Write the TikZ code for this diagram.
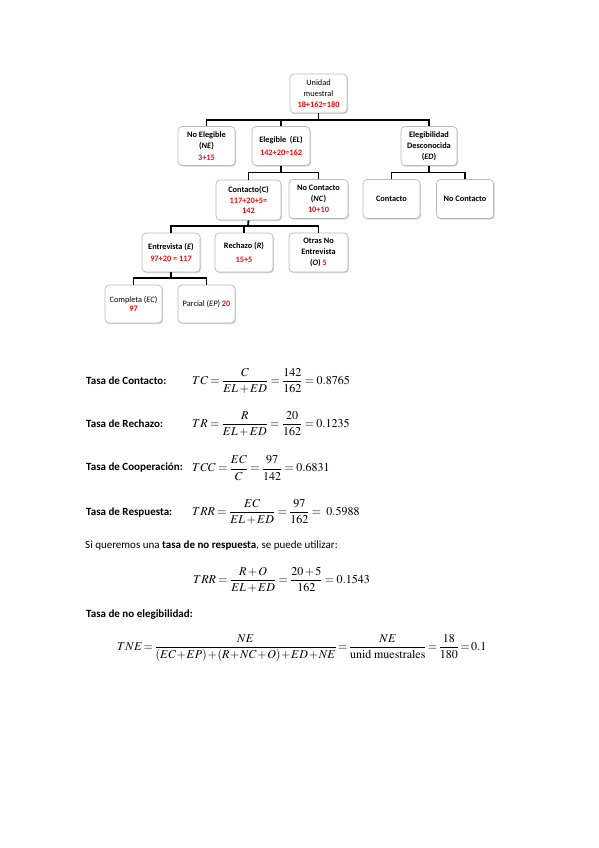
\documentclass[tikz,border=0pt]{standalone}
\usepackage{mathptmx}
\usepackage[no-math]{fontspec}
\setmainfont{Carlito}
\usetikzlibrary{shadows}
\definecolor{redn}{RGB}{245,10,10}
\definecolor{boxline}{RGB}{185,185,185}
\newcommand{\rn}[1]{{\bfseries\color{redn}#1}}
\tikzset{
  tb/.style={draw=boxline, fill=white, rounded corners=4pt, line width=0.7pt,
    minimum width=57pt, minimum height=39pt, align=center, inner sep=0.5pt,
    drop shadow={shadow xshift=1pt, shadow yshift=-1.2pt, opacity=0.35},
    font=\fontsize{8.3}{10.8}\selectfont},
  bl/.style={font=\fontsize{8.3}{10.8}\selectfont\bfseries},
  conn/.style={draw=black, line width=1.8pt},
  lbl/.style={anchor=west, inner sep=0pt, font=\fontsize{11}{13}\selectfont\bfseries},
  txt/.style={anchor=west, inner sep=0pt, font=\fontsize{11}{13}\selectfont},
  eq/.style={anchor=west, inner sep=0pt, font=\fontsize{12}{14}\selectfont}
}
\begin{document}
\thickmuskip=3.5mu plus 2mu
\medmuskip=2mu plus 1mu
\begin{tikzpicture}[x=1pt,y=-1pt]
\useasboundingbox[fill=white] (0,0) rectangle (599,848);

\coordinate (b1) at (318.5,120);
\coordinate (b2) at (281,172.5);
\coordinate (b3) at (429,172.5);
\coordinate (b4) at (248,226);
\coordinate (b5) at (171,278);

\node[tb] (U) at (318.5,93.5) {Unidad\\muestral\\\rn{18+162=180}};
\node[tb,bl] (NE) at (206.5,146) {No Elegible\\(\textit{NE})\\[1pt]\rn{3+15}};
\node[tb,bl,minimum width=58pt] (EL) at (281,146) {Elegible\ \ (\textit{EL})\\[2pt]\rn{142+20=162}};
\node[tb,bl,minimum width=56pt] (ED) at (429,146) {Elegibilidad\\Desconocida\\(\textit{ED})};
\node[tb,bl] (EDC) at (391.5,199) {Contacto};
\node[tb,bl] (EDNC) at (465,199) {No Contacto};
\node[tb,bl,minimum width=65pt,minimum height=40pt] (C) at (248.5,200) {Contacto(C)\\\rn{117+20+5=}\\\rn{142}};
\node[tb,bl,minimum width=59pt] (NC) at (318.5,199) {No Contacto\\(\textit{NC})\\\rn{10+10}};
\node[tb,bl,minimum width=58pt] (E) at (171,252.5) {Entrevista (\textit{E})\\[2pt]\rn{97+20 = 117}};
\node[tb,bl,minimum width=58pt] (R) at (244,252.5) {Rechazo (\textit{R})\\[3pt]\rn{15+5}\hspace{14pt}};
\node[tb,bl,minimum width=59pt] (O) at (318.5,252.5) {Otras No\\Entrevista\\(\textit{O}) \rn{5}};
\node[tb,minimum height=38pt] (EC) at (133.5,304) {Completa (\textit{EC})\\[-2pt]\rn{97}};
\node[tb,minimum height=38pt] (EP) at (206.5,304) {Parcial (\textit{EP}) \rn{20}};

\draw[conn] (U.south) -- (b1);
\draw[conn] (NE.north) -- (NE.north |- b1) -- (ED.north |- b1) -- (ED.north);
\draw[conn] (EL.north) -- (EL.north |- b1);

\draw[conn] (EL.south) -- (b2);
\draw[conn] (C.north) -- (C.north |- b2) -- (NC.north |- b2) -- (NC.north);

\draw[conn] (ED.south) -- (b3);
\draw[conn] (EDC.north) -- (EDC.north |- b3) -- (EDNC.north |- b3) -- (EDNC.north);

\draw[conn] (C.south) -- (b4);
\draw[conn] (E.north) -- (E.north |- b4) -- (O.north |- b4) -- (O.north);
\draw[conn] (R.north) -- (R.north |- b4);

\draw[conn] (E.south) -- (b5);
\draw[conn] (EC.north) -- (EC.north |- b5) -- (EP.north |- b5) -- (EP.north);

\node[lbl] (l1) at (86,381) {Tasa de Contacto:};
\node[eq] (e1) at (192,381) {$\displaystyle TC = \frac{C}{EL+ED} = \frac{142}{162} = 0.8765$};

\node[lbl] (l2) at (86,424) {Tasa de Rechazo:};
\node[eq] (e2) at (192,424) {$\displaystyle TR = \frac{R}{EL+ED} = \frac{20}{162} = 0.1235$};

\node[lbl] (l3) at (86,468) {Tasa de Cooperación:};
\node[eq] (e3) at (192,468) {$\displaystyle TCC = \frac{EC}{C} = \frac{97}{142} = 0.6831$};

\node[lbl] (l4) at (86,512) {Tasa de Respuesta:};
\node[eq] (e4) at (192,512) {$\displaystyle TRR = \frac{EC}{EL+ED} = \frac{97}{162} = \ 0.5988$};

\node[txt] (t5) at (85,546) {Si queremos una \textbf{tasa de no respuesta}, se puede utilizar:};
\node[eq] (e5) at (193,580) {$\displaystyle TRR = \frac{R+O}{EL+ED} = \frac{20+5}{162} = 0.1543$};

\node[lbl] (l6) at (86,615) {Tasa de no elegibilidad:};
\node[eq] (e6) at (117,648) {\thickmuskip=2mu\medmuskip=1mu$\displaystyle TNE = \frac{NE}{(EC+EP)+(R+NC+O)+ED+NE} = \frac{NE}{\mathrm{unid\ muestrales}} = \frac{18}{180} = 0.1$};
\end{tikzpicture}
\end{document}
